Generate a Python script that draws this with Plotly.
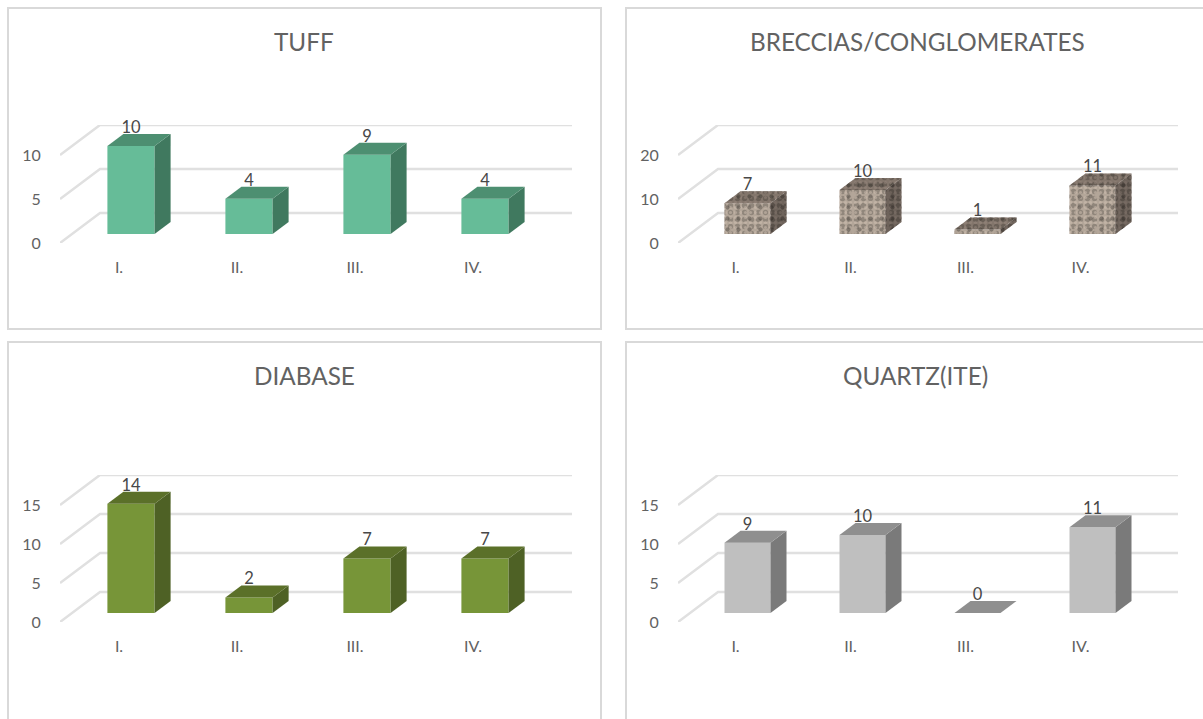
import plotly.graph_objects as go

W, H = 1203, 719
PAPER_H = 710  # height of the plot area as the page lays it out

# ---- data ----
categories = ["I.", "II.", "III.", "IV."]
tuff = [10, 4, 9, 4]
breccias = [7, 10, 1, 11]
diabase = [14, 2, 7, 7]
quartz = [9, 10, 0, 11]
tuff_ticks = [0, 5, 10]
breccias_ticks = [0, 10, 20]
diabase_ticks = [0, 5, 10, 15]
quartz_ticks = [0, 5, 10, 15]
titles = ["TUFF", "BRECCIAS/CONGLOMERATES", "DIABASE", "QUARTZ(ITE)"]

GRID = "#e0e0e0"
BORDER = "#d9d9d9"
TICK = "#626262"
LABEL = "#484848"
FONT = "Lato"

panels = [
    dict(v=tuff, t=tuff_ticks, title=titles[0], left=60, right=572, y0=243, ppu=8.8,
         box=(8, 8, 601, 329), tx=304, ty=41,
         front="#66bc98", side="#40795f", top="#4d8f71", tex=False),
    dict(v=breccias, t=breccias_ticks, title=titles[1], left=678, right=1178, y0=243, ppu=4.4,
         box=(626, 8, 1240, 329), tx=917, ty=41,
         front="#b3a699", side="#6e635b", top="#83766c", tex=True),
    dict(v=diabase, t=diabase_ticks, title=titles[2], left=60, right=572, y0=622, ppu=7.8,
         box=(8, 342, 601, 760), tx=304, ty=375,
         front="#779538", side="#4e6125", top="#5b7029", tex=False),
    dict(v=quartz, t=quartz_ticks, title=titles[3], left=678, right=1178, y0=622, ppu=7.8,
         box=(626, 342, 1240, 760), tx=916, ty=375,
         front="#bfbfbf", side="#7a7a7a", top="#8f8f8f", tex=False),
]

DEPTH_PX_X, DEPTH_PX_Y = 40, 30
BAR_START, BAR_DEPTH = 0.3, 0.4
BAR_W = 0.4
LABEL_DROP_PX = 3


def tex_layers(base):
    """Overlapping dot patterns of different pitch give a mottled stone look."""
    r, g, b = int(base[1:3], 16), int(base[3:5], 16), int(base[5:7], 16)
    dark = f"rgb({int(r*.62)},{int(g*.62)},{int(b*.62)})"
    darker = f"rgb({int(r*.45)},{int(g*.45)},{int(b*.45)})"
    light = f"rgb({min(255,int(r*1.16))},{min(255,int(g*1.16))},{min(255,int(b*1.16))})"
    return [
        dict(shape=".", fgcolor=dark, size=7, solidity=0.45),
        dict(shape=".", fgcolor=light, size=5, solidity=0.3),
        dict(shape=".", fgcolor=darker, size=11, solidity=0.12),
    ]


fig = go.Figure()
shapes, annotations = [], []
layout_axes = {}

for i, p in enumerate(panels, start=1):
    xn, yn = ("x", "y") if i == 1 else (f"x{i}", f"y{i}")
    xa, ya = ("xaxis", "yaxis") if i == 1 else (f"xaxis{i}", f"yaxis{i}")
    n = len(categories)
    cat_px = (p["right"] - DEPTH_PX_X - p["left"]) / n
    dx = DEPTH_PX_X / cat_px
    dy = DEPTH_PX_Y / p["ppu"]
    top_tick = max(p["t"])
    layout_axes[xa] = dict(
        domain=[p["left"] / W, p["right"] / W], range=[-0.5, n - 0.5 + dx], anchor=yn,
        tickmode="array", tickvals=list(range(n)), ticktext=categories,
        showgrid=False, zeroline=False, showline=False, ticks="outside", ticklen=10,
        tickcolor="rgba(0,0,0,0)", tickfont=dict(family=FONT, size=16, color=TICK), fixedrange=True)
    layout_axes[ya] = dict(
        domain=[1 - p["y0"] / PAPER_H, 1 - (p["y0"] - top_tick * p["ppu"] - DEPTH_PX_Y) / PAPER_H],
        range=[0, top_tick + dy], anchor=xn,
        tickmode="array", tickvals=p["t"], showgrid=False, zeroline=False, showline=False,
        ticks="outside", ticklen=15, tickcolor="rgba(0,0,0,0)",
        tickfont=dict(family=FONT, size=16, color=TICK), fixedrange=True)

    x_end = n - 0.5 + dx
    for t in p["t"]:
        shapes.append(dict(
            type="path", xref=xn, yref=yn, layer="below",
            path=f"M {-0.5} {t} L {-0.5 + dx} {t + dy} L {x_end} {t + dy}",
            line=dict(color=GRID, width=2.5)))

    sx, sy = BAR_START * dx, BAR_START * dy
    ddx, ddy = BAR_DEPTH * dx, BAR_DEPTH * dy
    xs = [k + sx for k in range(n)]

    fig.add_trace(go.Bar(x=xs, y=p["v"], base=[sy] * n, width=BAR_W,
                         marker=dict(color=p["front"], line=dict(width=0)),
                         xaxis=xn, yaxis=yn, showlegend=False, hoverinfo="skip"))
    if p["tex"]:
        for pat in tex_layers(p["front"]):
            fig.add_trace(go.Bar(x=xs, y=p["v"], base=[sy] * n, width=BAR_W,
                                 marker=dict(color="rgba(0,0,0,0)", line=dict(width=0),
                                             pattern=dict(bgcolor="rgba(0,0,0,0)", **pat)),
                                 xaxis=xn, yaxis=yn, showlegend=False, hoverinfo="skip"))

    for x, v in zip(xs, p["v"]):
        x0, x1 = x - BAR_W / 2, x + BAR_W / 2
        yb, yt = sy, sy + v
        faces = [
            ([x1, x1 + ddx, x1 + ddx, x1, x1], [yb, yb + ddy, yt + ddy, yt, yb], p["side"]),
            ([x0, x1, x1 + ddx, x0 + ddx, x0], [yt, yt, yt + ddy, yt + ddy, yt], p["top"]),
        ]
        for fx, fy, col in faces:
            fig.add_trace(go.Scatter(x=fx, y=fy, mode="lines", fill="toself", fillcolor=col,
                                     line=dict(width=0), xaxis=xn, yaxis=yn,
                                     showlegend=False, hoverinfo="skip"))
            if p["tex"]:
                for pat in tex_layers(col):
                    fig.add_trace(go.Scatter(x=fx, y=fy, mode="lines", fill="toself",
                                             fillcolor="rgba(0,0,0,0)", line=dict(width=0),
                                             fillpattern=dict(bgcolor="rgba(0,0,0,0)", **pat),
                                             xaxis=xn, yaxis=yn, showlegend=False, hoverinfo="skip"))

    fig.add_trace(go.Scatter(
        x=xs, y=[sy + v + ddy - LABEL_DROP_PX / p["ppu"] for v in p["v"]], mode="text",
        text=[str(v) for v in p["v"]],
        textposition="top center", textfont=dict(family=FONT, size=16.5, color=LABEL),
        cliponaxis=False, xaxis=xn, yaxis=yn, showlegend=False, hoverinfo="skip"))

    bx0, by0, bx1, by1 = p["box"]
    shapes.append(dict(type="rect", xref="paper", yref="paper", layer="below",
                       x0=bx0 / W, x1=bx1 / W, y0=1 - by1 / PAPER_H, y1=1 - by0 / PAPER_H,
                       line=dict(color=BORDER, width=2), fillcolor="rgba(0,0,0,0)"))
    annotations.append(dict(xref="paper", yref="paper", x=p["tx"] / W, y=1 - p["ty"] / PAPER_H,
                            xanchor="center", yanchor="middle", showarrow=False, text=p["title"],
                            font=dict(family=FONT, size=24.3, color=TICK)))

fig.update_layout(width=W, height=H, margin=dict(l=0, r=0, t=0, b=0), autosize=False,
                  paper_bgcolor="white", plot_bgcolor="rgba(0,0,0,0)", barmode="overlay",
                  showlegend=False, shapes=shapes, annotations=annotations, **layout_axes)

fig.write_html("out.html", config=dict(displayModeBar=False),
               post_script="document.body.style.margin='0';document.body.style.overflow='hidden';")
